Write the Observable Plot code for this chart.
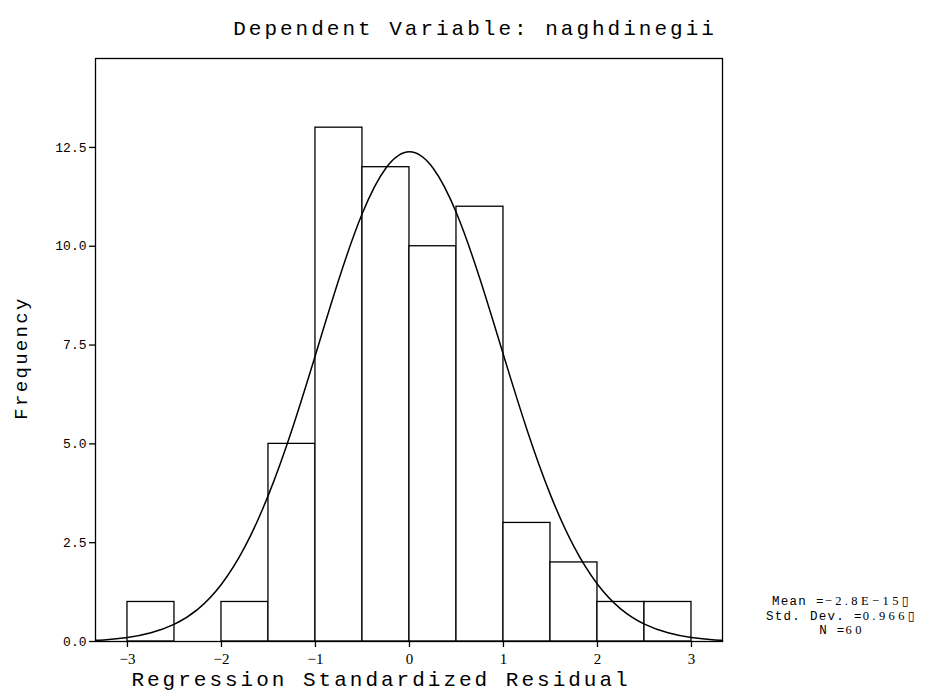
<!DOCTYPE html>
<html>
<head>
<meta charset="utf-8">
<script src="https://cdn.jsdelivr.net/npm/d3@7"></script>
<script src="https://cdn.jsdelivr.net/npm/@observablehq/plot@0.6"></script>
<style>
  html, body { margin: 0; padding: 0; background: #fff; }
  #chart svg { display: block; }
</style>
</head>
<body>
<div id="chart"></div>
<script>
// Histogram bins (start of each 0.5-wide bin) and frequencies
const binStarts = [-3.0, -2.5, -2.0, -1.5, -1.0, -0.5, 0.0, 0.5, 1.0, 1.5, 2.0, 2.5];
const counts    = [1,    0,    1,    5,    13,   12,   10,   11,   3,    2,    1,    1];
const binWidth = 0.5;

// Normal curve points
const curveX = [-3.34, -3.25, -3.0, -2.75, -2.5, -2.25, -2.0, -1.75, -1.5, -1.25, -1.0, -0.75, -0.5, -0.25, 0.0,
                0.25, 0.5, 0.75, 1.0, 1.25, 1.5, 1.75, 2.0, 2.25, 2.5, 2.75, 3.0, 3.25, 3.33];
const curveY = [0.03, 0.04, 0.10, 0.22, 0.44, 0.82, 1.45, 2.40, 3.71, 5.36, 7.25, 9.17, 10.84, 11.98, 12.39,
                11.98, 10.84, 9.17, 7.25, 5.36, 3.71, 2.40, 1.45, 0.82, 0.44, 0.22, 0.10, 0.04, 0.03];

const xTicks = [-3, -2, -1, 0, 1, 2, 3];
const yTicks = [0, 2.5, 5, 7.5, 10, 12.5];

const title = "Dependent Variable: naghdinegii";
const xLabel = "Regression Standardized Residual";
const yLabel = "Frequency";
const statLabels = ["Mean =", "Std. Dev. =", "N ="];
const statValues = ["\u22122.8E\u221215\u25AF", "0.966\u25AF", "60"];

const bars = binStarts.map((s, i) => ({x1: s, x2: s + binWidth, y: counts[i]})).filter(d => d.y > 0);
const curve = curveX.map((x, i) => ({x, y: curveY[i]}));

const mono = "'Liberation Mono', 'DejaVu Sans Mono', monospace";
const serif = "'Liberation Serif', 'DejaVu Serif', serif";

const chart = Plot.plot({
  width: 934,
  height: 700,
  marginLeft: 95,
  marginRight: 212,
  marginTop: 58,
  marginBottom: 59,
  style: {background: "#fff", color: "#000"},
  x: {domain: [-3.34, 3.33]},
  y: {domain: [0, 14.75]},
  marks: [
    Plot.rectY(bars, {x1: "x1", x2: "x2", y: "y", fill: "#fff", stroke: "#000", strokeWidth: 1.3}),
    Plot.line(curve, {x: "x", y: "y", curve: "natural", stroke: "#000", strokeWidth: 1.5}),
    Plot.frame({stroke: "#000", strokeWidth: 1.3}),
    Plot.axisX({ticks: xTicks, tickFormat: d => d < 0 ? "\u2212" + Math.abs(d) : String(d), tickSize: 6, tickPadding: 6,
      fontSize: 15, fontFamily: serif, label: null, stroke: "#000", strokeWidth: 1.3}),
    Plot.axisY({ticks: yTicks, tickFormat: d3.format(".1f"), tickSize: 6, tickPadding: 3,
      fontSize: 13, fontFamily: mono, label: null, stroke: "#000", strokeWidth: 1.3}),
    Plot.text([title], {frameAnchor: "top", textAnchor: "middle", dx: 66, dy: -38, text: d => d, fontSize: 21, fontFamily: mono, fill: "#000"}),
    Plot.text([xLabel], {frameAnchor: "bottom", textAnchor: "middle", dx: -28, dy: 44, text: d => d, fontSize: 21, fontFamily: mono, fill: "#000"}),
    Plot.text([yLabel], {frameAnchor: "left", textAnchor: "middle", dx: -75, dy: 8, rotate: -90, text: d => d, fontSize: 19, fontFamily: mono, fill: "#000"})
  ]
});

const svg = d3.select(chart);
svg.style("font-family", mono);
svg.selectAll("text").filter(function() {
  const t = this.textContent;
  return t === title || t === xLabel;
}).style("letter-spacing", "3px");
svg.selectAll("text").filter(function() { return this.textContent === yLabel; }).style("letter-spacing", "2.3px");

// Stats box text (bottom right)
const statY = [605, 619.5, 634];
statLabels.forEach((lab, i) => {
  const t = svg.append("text")
    .attr("x", 842).attr("y", statY[i])
    .attr("text-anchor", "middle")
    .attr("font-size", 12.5)
    .attr("fill", "#000");
  t.append("tspan").attr("font-family", mono).style("letter-spacing", "1.3px").text(lab);
  t.append("tspan").attr("font-family", serif).attr("font-size", 12.5).style("letter-spacing", "3.4px").text(statValues[i]);
});

document.getElementById("chart").appendChild(chart);
</script>
</body>
</html>
